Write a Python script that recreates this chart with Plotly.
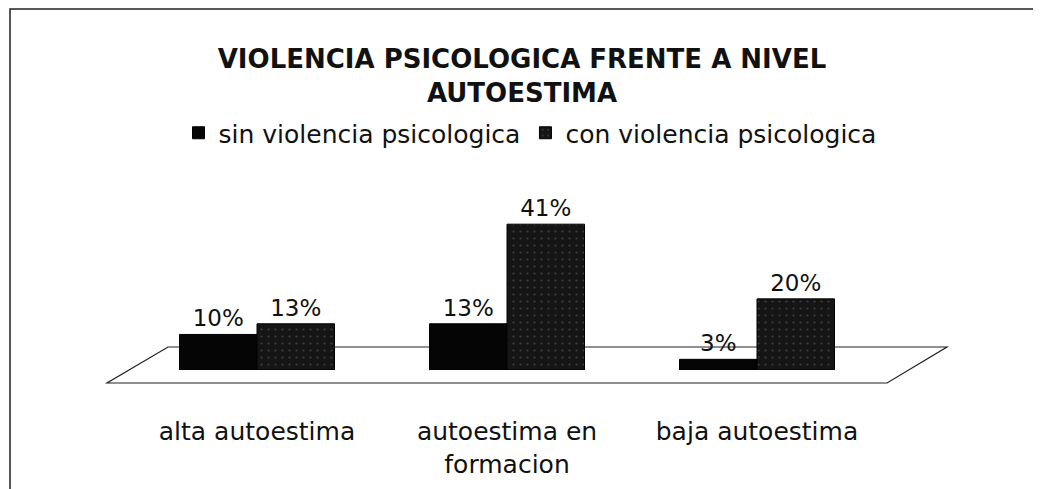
import plotly.graph_objects as go

categories = ["alta autoestima", "autoestima en<br>formacion", "baja autoestima"]
series_names = ["sin violencia psicologica", "con violencia psicologica"]
sin_values = [10, 13, 3]
con_values = [13, 41, 20]

FONT = "DejaVu Sans, Verdana, sans-serif"
OFF = 8  # page body margin offset

W, H = 1041, 489
L, T = 132 - OFF, 200 - OFF
R = W - (882 - OFF)
B = H - (370 - OFF)
pw, ph = W - L - R, H - T - B

def px(x):
    return (x - OFF - L) / pw

def py(y):
    return (H - B - (y - OFF)) / ph

fig = go.Figure()
fig.add_trace(go.Bar(
    x=categories, y=sin_values, name=series_names[0],
    marker=dict(color="#050505", line=dict(color="#000", width=1)),
    text=[f"{v}%" for v in sin_values], textposition="outside", constraintext="none",
    textfont=dict(size=23, color="#111", family=FONT), cliponaxis=False,
))
fig.add_trace(go.Bar(
    x=categories, y=con_values, name=series_names[1],
    marker=dict(color="#151515", line=dict(color="#000", width=1),
                pattern=dict(shape=".", fgcolor="#666", size=7, solidity=0.08)),
    text=[f"{v}%" for v in con_values], textposition="outside", constraintext="none",
    textfont=dict(size=23, color="#111", family=FONT), cliponaxis=False,
))

shapes = [
    # floor
    dict(type="path", xref="paper", yref="paper", layer="below",
         path=f"M {px(107)} {py(383)} L {px(887)} {py(383)} L {px(947)} {py(347)} L {px(168)} {py(347)} Z",
         line=dict(color="#222", width=1.2), fillcolor="rgba(0,0,0,0)"),
    # outer border
    dict(type="rect", xref="paper", yref="paper", layer="below",
         x0=px(10), x1=px(1036), y0=py(520), y1=py(9),
         line=dict(color="#222", width=1.5), fillcolor="rgba(0,0,0,0)"),
]

fig.update_layout(
    width=W, height=H,
    margin=dict(l=L, r=R, t=T, b=B, autoexpand=False),
    paper_bgcolor="white", plot_bgcolor="white",
    barmode="group", bargap=0.38, bargroupgap=0.0,
    font=dict(family=FONT, color="#111"),
    title=dict(text="<b>VIOLENCIA PSICOLOGICA FRENTE A NIVEL<br>AUTOESTIMA</b>",
               x=(522 - OFF) / W, xref="container", xanchor="center",
               y=1 - 60 / H, yref="container", yanchor="top",
               font=dict(size=26, family=FONT, color="#111")),
    legend=dict(orientation="h", x=(530 - OFF) / W, xref="container", xanchor="center",
                y=1 - (133 - OFF) / H, yref="container", yanchor="middle",
                font=dict(size=25, family=FONT),
                tracegroupgap=0, traceorder="normal"),
    showlegend=True,
    shapes=shapes,
    xaxis=dict(showline=False, showgrid=False, ticks="", ticklabelstandoff=44,
               tickangle=0, automargin=False,
               tickfont=dict(size=25, family=FONT, color="#111")),
    yaxis=dict(range=[0, 47.8], visible=False, showgrid=False, automargin=False),
)

fig.write_html("out.html")
